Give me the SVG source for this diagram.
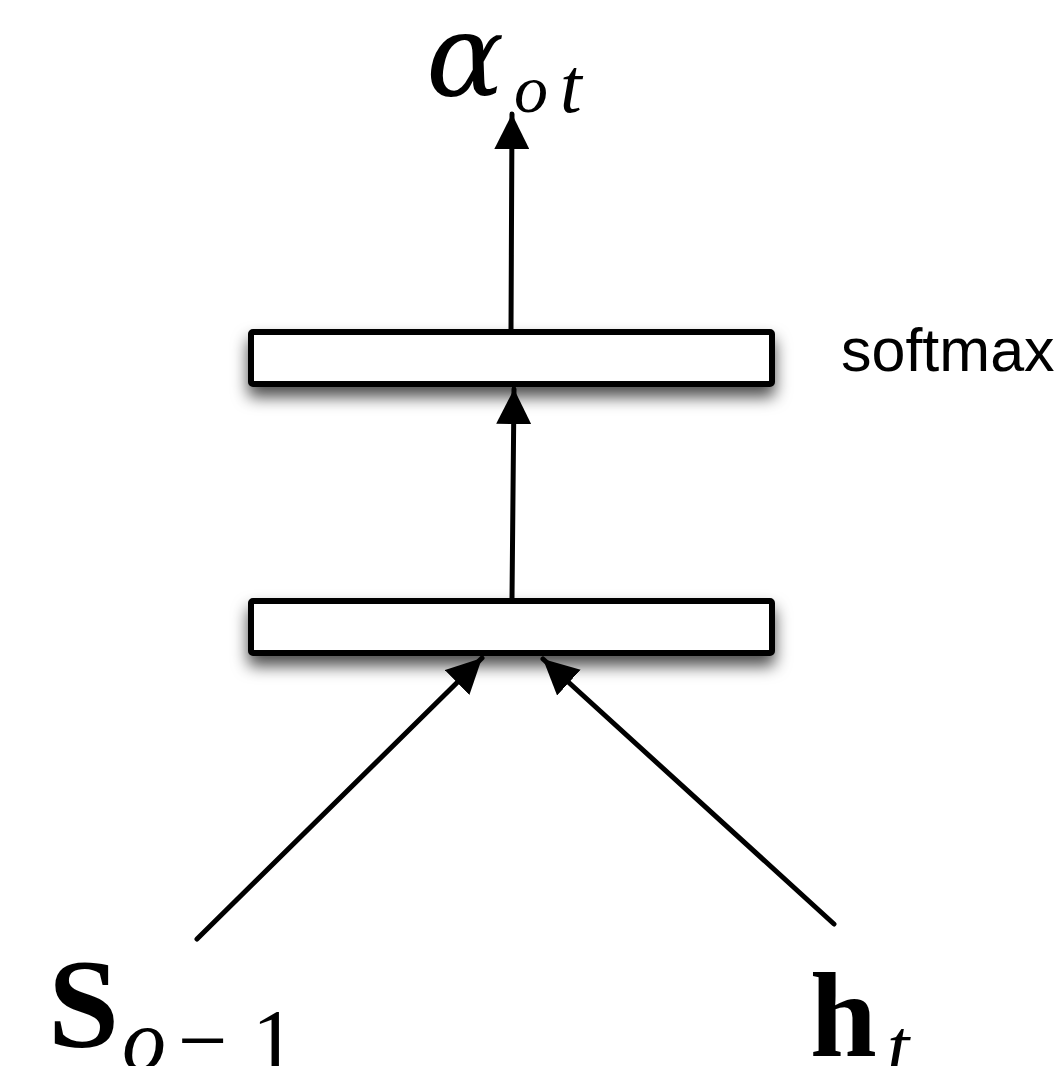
<svg xmlns="http://www.w3.org/2000/svg" width="1061" height="1066" viewBox="0 0 1061 1066">
<style>
.box{fill:#fff;stroke:#000;stroke-width:6;}
.edge{stroke:#000;stroke-width:5;fill:none;stroke-linecap:round;}
.math{font-family:"Liberation Serif","DejaVu Serif",serif;fill:#000;}
.greek{font-family:"DejaVu Serif","Liberation Serif",serif;fill:#000;}
.it{font-style:italic;}
.lbl{font-family:"Liberation Sans",Arial,sans-serif;fill:#000;}
</style>
<defs>
<filter id="sh" x="-10%" y="-50%" width="120%" height="260%">
<feDropShadow dx="0" dy="10" stdDeviation="8" flood-color="#000" flood-opacity="0.7"/>
</filter>
<marker id="ah" viewBox="0 0 10 10" refX="10" refY="5" markerWidth="7" markerHeight="7" markerUnits="strokeWidth" orient="auto">
<path d="M0,0 L10,5 L0,10 z" fill="#000"/>
</marker>
</defs>
<g id="softmax-layer">
<rect class="box" x="251" y="332" width="521" height="52" rx="2" filter="url(#sh)"/>
<text class="lbl" x="841" y="371" font-size="61">softmax</text>
</g>
<g id="hidden-layer">
<rect class="box" x="251" y="601" width="521" height="52" rx="2" filter="url(#sh)"/>
</g>
<g id="alpha">
<text class="greek it" x="426" y="96" font-size="116">α</text>
<text class="math it" x="514" y="112" font-size="68">o</text>
<text class="math it" x="560" y="112" font-size="78">t</text>
</g>
<g id="s">
<text class="math" x="48" y="1047" font-size="128" font-weight="bold">S</text>
<text class="math it" x="122" y="1070" font-size="88">o</text>
<text class="math" x="178" y="1070" font-size="88">−</text>
<text class="math" x="252" y="1070" font-size="88">1</text>
</g>
<g id="h">
<text class="math" x="810" y="1056" font-size="120" font-weight="bold">h</text>
<text class="math it" x="887" y="1074" font-size="80">t</text>
</g>
<g id="connectors">
<line class="edge" x1="511" y1="330" x2="512" y2="114" marker-end="url(#ah)"/>
<line class="edge" x1="512" y1="599" x2="514" y2="389" marker-end="url(#ah)"/>
<line class="edge" x1="197" y1="939" x2="482" y2="658" marker-end="url(#ah)"/>
<line class="edge" x1="834" y1="924" x2="543" y2="659" marker-end="url(#ah)"/>
</g>
</svg>
